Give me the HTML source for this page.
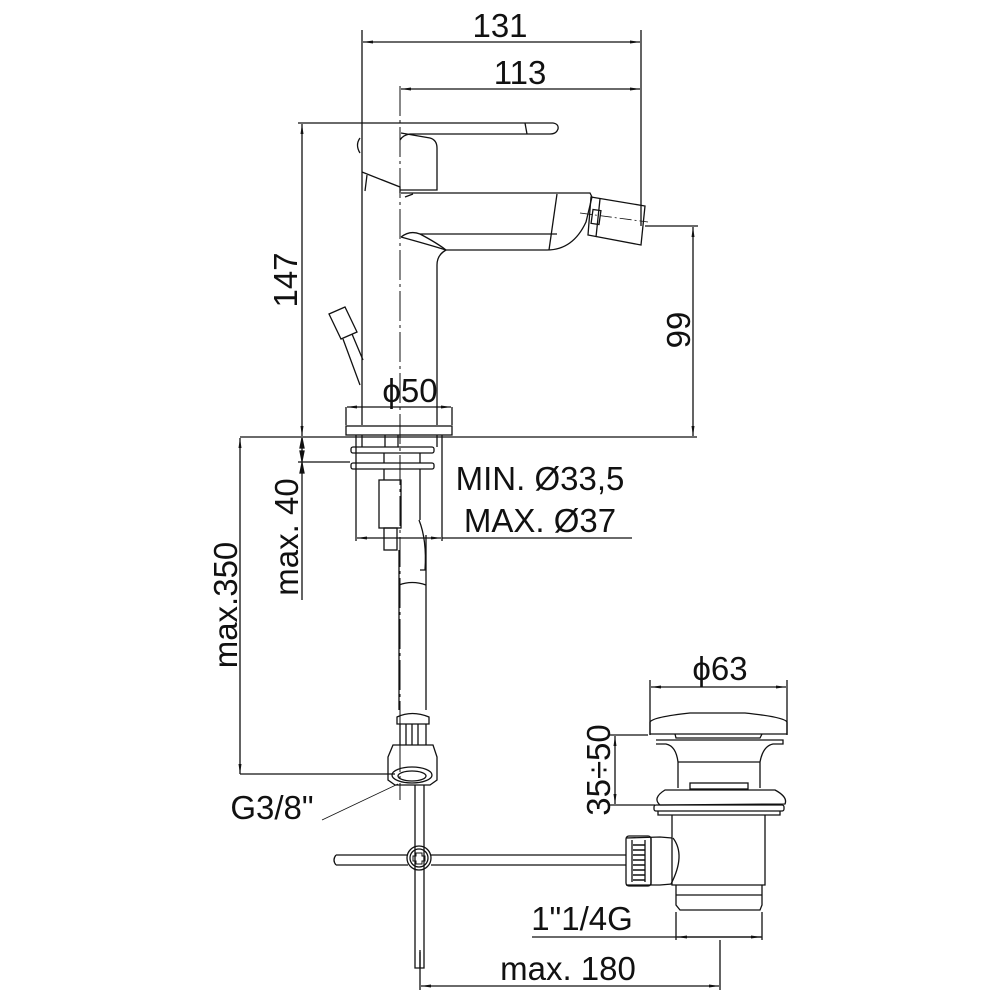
<!DOCTYPE html>
<html><head><meta charset="utf-8"><style>
html,body{margin:0;padding:0;background:#fff}
svg{display:block}
text{font-family:"Liberation Sans",sans-serif;font-size:33px;fill:#111}
</style></head><body>
<svg width="1000" height="1000" viewBox="0 0 1000 1000" xmlns="http://www.w3.org/2000/svg">
<defs>
<marker id="a" markerWidth="10" markerHeight="6" refX="10" refY="3" orient="auto-start-reverse" markerUnits="userSpaceOnUse"><path d="M0,1.5 L10,3 L0,4.5Z" fill="#111"/></marker>
</defs>
<g stroke="#111" stroke-width="1.3" fill="none">
<line x1="362" y1="30" x2="362" y2="123"/>
<line x1="641" y1="30" x2="641" y2="226"/>
<line x1="363" y1="42" x2="640" y2="42" marker-start="url(#a)" marker-end="url(#a)"/>
<line x1="401" y1="89" x2="640" y2="89" marker-start="url(#a)" marker-end="url(#a)"/>
<line x1="400" y1="86" x2="400" y2="800" stroke-dasharray="30,4,3,4" stroke-width="1"/>
<line x1="298" y1="123" x2="362" y2="123"/>
<line x1="302" y1="124" x2="302" y2="436" marker-start="url(#a)" marker-end="url(#a)"/>
<line x1="645" y1="226" x2="698" y2="226"/>
<line x1="693" y1="227" x2="693" y2="436" marker-start="url(#a)" marker-end="url(#a)"/>
<line x1="240" y1="437" x2="697" y2="437"/>
<path d="M362,123 L553,123 Q559,124 558,129 L557,131 Q555,134 550,134 L410,134 Q403,135 400,140"/>
<line x1="525" y1="123" x2="527" y2="134"/>
<path d="M401,133 L430,138 Q437,140 437,148 L437,190 L400,190"/>
<path d="M362,123 L362,425"/>
<path d="M360,138 Q355,145 360,153"/>
<path d="M362,172 L400,187 L400,193"/>
<path d="M367,175 L365,191"/>
<path d="M401,193 L590,193 L592,197"/>
<path d="M413,194 L405,197"/>
<path d="M401,237 Q410,230 420,234 L557,234"/>
<path d="M401,237 Q430,245 446,250 Q437,255 437,265 L437,425"/>
<path d="M420,234 Q437,243 446,250 L547,250 Q573,250 586,222 L592,197"/>
<line x1="557" y1="194" x2="549" y2="250"/>
<path d="M591,197 L645,206 L641,245 L588,235 Z"/>
<line x1="600" y1="199" x2="596" y2="237"/>
<rect x="592" y="210" width="8" height="14" transform="rotate(8 596 217)"/>
<line x1="580" y1="213" x2="648" y2="222" stroke-dasharray="12,3,2,3" stroke-width="0.8"/>
<path d="M329,314 L345,307 L357,332 L341,339 Z"/>
<path d="M343,339 L360,385 M352,334 L363,360"/>
<line x1="346" y1="407" x2="346" y2="425"/>
<line x1="452" y1="407" x2="452" y2="425"/>
<line x1="347" y1="407" x2="451" y2="407" marker-start="url(#a)" marker-end="url(#a)"/>
<rect x="346" y="426" width="106" height="9"/>
<path d="M362,435 L362,447 M437,435 L437,447 M385,435 L385,447 M398,435 L398,447"/>
<rect x="351" y="447" width="83" height="6" rx="2"/>
<rect x="351" y="463" width="83" height="6" rx="2"/>
<path d="M384,453 L384,463 M420,453 L420,463 M384,469 L384,480 M420,469 L420,520"/>
<line x1="356" y1="435" x2="356" y2="541"/>
<line x1="442" y1="435" x2="442" y2="541"/>
<line x1="357" y1="538" x2="441" y2="538" marker-start="url(#a)" marker-end="url(#a)"/>
<line x1="442" y1="538" x2="632" y2="538"/>
<line x1="298" y1="462" x2="350" y2="462"/>
<line x1="302" y1="438" x2="302" y2="600" />
<path d="M302,438 l-2,10 l4,0z M302,461 l-2,-10 l4,0z M302,463 l-2,10 l4,0z" fill="#111"/>
<rect x="379" y="480" width="22" height="48"/>
<rect x="384" y="528" width="13" height="22"/>
<path d="M399,550 L399,710 M426,535 L426,710"/>
<path d="M419,520 Q427,540 425,570 M420,570 L426,570"/>
<path d="M399,585 Q412,580 426,585"/>
<path d="M397,717 Q412,710 429,717 L429,724 L397,724 Z"/>
<path d="M400,724 L400,745 M426,724 L426,745 M406,724 L406,745 M412,724 L412,745 M418,724 L418,745"/>
<path d="M393,745 L433,745 L437,757 L437,780 L430,785 L395,785 L388,780 L388,757 Z"/>
<ellipse cx="412" cy="775" rx="20" ry="8"/>
<ellipse cx="412" cy="776" rx="14" ry="5"/>
<line x1="240" y1="438" x2="240" y2="774" marker-start="url(#a)" marker-end="url(#a)"/>
<line x1="240" y1="774" x2="395" y2="774"/>
<line x1="322" y1="820" x2="398" y2="784" stroke-width="0.8"/>
<path d="M415,785 L415,968 L424,968 L424,785"/>
<line x1="420" y1="952" x2="420" y2="968"/>
<path d="M336,855 L408,855 M336,865 L408,865 M336,855 Q332,860 336,865"/>
<path d="M431,855 L626,855 M431,865 L626,865"/>
<circle cx="419" cy="858" r="12"/>
<circle cx="419" cy="858" r="9"/>
<path d="M416,853 h6 v3 h3 v5 h-3 v3 h-6 v-3 h-3 v-5 h3 z" stroke-width="1"/>
<line x1="650" y1="680" x2="650" y2="735"/>
<line x1="787" y1="680" x2="787" y2="735"/>
<line x1="651" y1="687" x2="786" y2="687" marker-start="url(#a)" marker-end="url(#a)"/>
<path d="M650,722 Q653,717 690,713 L745,713 Q784,717 787,722 L787,734 L650,734 Z"/>
<path d="M675,734 L676,738 L760,738 L762,734"/>
<path d="M656,740 L783,740 L783,744 L773,744 Q763,746 760,762 L760,788 M656,744 L666,744 Q676,746 678,762 L678,788"/>
<line x1="678" y1="762" x2="760" y2="762"/>
<rect x="690" y="783" width="58" height="6"/>
<path d="M660,805 Q652,798 665,790 L775,790 Q788,797 785,804 Z"/>
<rect x="654" y="805" width="130" height="6" rx="2"/>
<path d="M658,811 L658,815 L780,815 L780,811"/>
<path d="M672,815 L672,885 L765,885 L765,815"/>
<path d="M676,885 L676,905 L680,910 L760,910 L762,905 L762,885 M676,895 L762,895"/>
<path d="M673,838 Q686,855 671,884"/>
<path d="M626,838 L660,837 L672,838 M626,885 L660,885 L672,884"/>
<rect x="626" y="836" width="25" height="50" rx="3"/>
<path d="M632,840 L632,882 M645,840 L645,882 M651,837 L651,885"/>
<g stroke-width="1.5"><path d="M633,845 h12 M633,850 h12 M633,855 h12 M633,860 h12 M633,865 h12 M633,870 h12 M633,875 h12 M633,880 h12"/></g>
<line x1="610" y1="735" x2="648" y2="735"/>
<line x1="610" y1="805" x2="655" y2="805"/>
<line x1="615" y1="736" x2="615" y2="804" marker-start="url(#a)" marker-end="url(#a)"/>
<line x1="676" y1="912" x2="676" y2="940"/>
<line x1="762" y1="912" x2="762" y2="940"/>
<line x1="532" y1="937" x2="762" y2="937"/>
<line x1="677" y1="937" x2="761" y2="937" marker-start="url(#a)" marker-end="url(#a)"/>
<line x1="420" y1="950" x2="420" y2="990"/>
<line x1="720" y1="940" x2="720" y2="990"/>
<line x1="421" y1="986" x2="719" y2="986" marker-start="url(#a)" marker-end="url(#a)"/>
</g>
<text x="500" y="37" text-anchor="middle">131</text>
<text x="520" y="84" text-anchor="middle">113</text>
<text x="410" y="402" text-anchor="middle">ϕ50</text>
<text x="540" y="490" text-anchor="middle">MIN. Ø33,5</text>
<text x="540" y="532" text-anchor="middle">MAX. Ø37</text>
<text x="720" y="680" text-anchor="middle">ϕ63</text>
<text x="272" y="819" text-anchor="middle">G3/8"</text>
<text x="582" y="930" text-anchor="middle">1"1/4G</text>
<text x="568" y="980" text-anchor="middle">max. 180</text>
<text transform="translate(297,280) rotate(-90)" text-anchor="middle">147</text>
<text transform="translate(690,330) rotate(-90)" text-anchor="middle">99</text>
<text transform="translate(298,537) rotate(-90)" text-anchor="middle">max. 40</text>
<text transform="translate(237,605) rotate(-90)" text-anchor="middle">max.350</text>
<text transform="translate(610,770) rotate(-90)" text-anchor="middle">35÷50</text>
</svg>
</body></html>
